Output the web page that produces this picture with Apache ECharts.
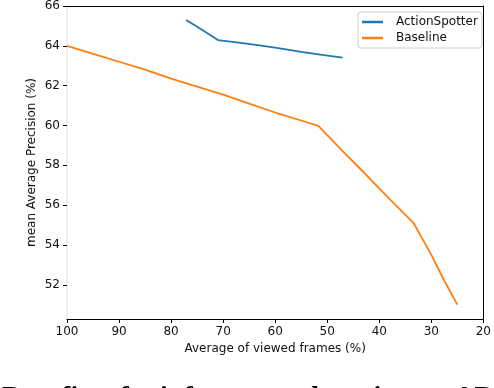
<!DOCTYPE html>
<html>
<head>
<meta charset="utf-8">
<script src="https://cdn.jsdelivr.net/npm/echarts@6/dist/echarts.min.js"></script>
<style>
  html, body { margin: 0; padding: 0; background: #fff; }
  #chart { width: 494px; height: 388px; }
</style>
</head>
<body>
<div id="chart"></div>
<script>
// viewed frames (%) vs mAP (%)
var spotterX = [77.1, 74, 71, 67, 63, 59.4, 55, 51, 47.05];
var spotterY = [65.3, 64.8, 64.29, 64.16, 64.02, 63.88, 63.7, 63.55, 63.41];
var baselineX = [100, 95, 90, 85, 80, 75, 70, 65, 60, 55, 51.7, 47, 43, 38, 33.4, 30, 27.5, 25];
var baselineY = [64.0, 63.6, 63.2, 62.8, 62.35, 61.95, 61.55, 61.1, 60.65, 60.25, 59.98, 58.7, 57.65, 56.3, 55.1, 53.5, 52.2, 51.0];
var yTicks = [52, 54, 56, 58, 60, 62, 64, 66];

function pairs(xs, ys) {
    return xs.map(function(x, i) { return [x, ys[i]]; });
}

window.onload = function() {
    var chart = echarts.init(document.getElementById('chart'));
    var font = 'DejaVu Sans';

    chart.setOption({
        animation: false,
        grid: { left: 67, right: 7, top: 6, bottom: 69 },
        legend: {
            orient: 'vertical',
            left: 358,
            top: 12,
            padding: [4, 4, 4, 4],
            itemGap: 4,
            itemWidth: 21,
            itemHeight: 2.5,
            icon: 'rect',
            borderColor: '#d0d0d0',
            borderWidth: 1,
            borderRadius: 3,
            textStyle: { fontFamily: font, fontSize: 12, color: '#111', padding: [0, 0, 0, 8] },
            data: ['ActionSpotter', 'Baseline']
        },
        xAxis: [{
            type: 'value',
            inverse: true,
            min: 20,
            max: 100,
            interval: 10,
            name: 'Average of viewed frames (%)',
            nameLocation: 'middle',
            nameGap: 24,
            nameMoveOverlap: false,
            nameTextStyle: { fontFamily: font, fontSize: 12, color: '#111' },
            axisLine: { lineStyle: { color: '#000', width: 1 } },
            axisTick: { length: 4, lineStyle: { color: '#000' } },
            axisLabel: { fontFamily: font, fontSize: 12, color: '#111', margin: 7 },
            splitLine: { show: false }
        }, {
            type: 'value',
            inverse: true,
            position: 'top',
            min: 20,
            max: 100,
            axisLine: { onZero: false, lineStyle: { color: '#000', width: 1 } },
            axisTick: { show: false },
            axisLabel: { show: false },
            splitLine: { show: false }
        }],
        yAxis: [{
            type: 'value',
            min: 50.28,
            max: 66,
            name: 'mean Average Precision (%)',
            nameLocation: 'middle',
            nameGap: 29,
            nameMoveOverlap: false,
            nameTextStyle: { fontFamily: font, fontSize: 12, color: '#111' },
            axisLine: { show: true, lineStyle: { color: '#ebebeb', width: 1.5 } },
            axisTick: { show: true, length: 4, customValues: yTicks, lineStyle: { color: '#000' } },
            axisLabel: { fontFamily: font, fontSize: 12, color: '#111', margin: 7, customValues: yTicks },
            splitLine: { show: false }
        }, {
            type: 'value',
            position: 'right',
            min: 50.28,
            max: 66,
            axisLine: { show: true, onZero: false, lineStyle: { color: '#000', width: 1 } },
            axisTick: { show: false },
            axisLabel: { show: false },
            splitLine: { show: false }
        }],
        series: [{
            name: 'ActionSpotter',
            type: 'line',
            data: pairs(spotterX, spotterY),
            showSymbol: false,
            symbol: 'none',
            lineStyle: { color: '#1f77b4', width: 1.8 },
            itemStyle: { color: '#1f77b4' }
        }, {
            name: 'Baseline',
            type: 'line',
            data: pairs(baselineX, baselineY),
            showSymbol: false,
            symbol: 'none',
            lineStyle: { color: '#ff7f0e', width: 1.8 },
            itemStyle: { color: '#ff7f0e' }
        }],
        graphic: [{
            type: 'text',
            left: 2,
            top: 384,
            style: {
                text: 'Benefits of reinforcement learning on AD',
                font: 'bold 28px "Liberation Serif"',
                fill: '#000'
            }
        }]
    });
};
</script>
</body>
</html>
